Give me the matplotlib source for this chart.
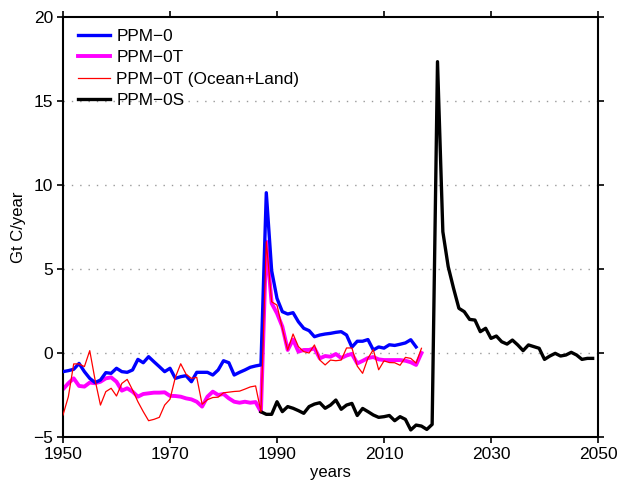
import matplotlib
matplotlib.use("Agg")
import matplotlib.pyplot as plt
import numpy as np

plt.rcParams['font.family'] = ['Liberation Sans', 'DejaVu Sans']

# PPM-0 (blue), 1950-2016
years_ppm0 = list(range(1950, 2017))
ppm0 = [-1.11, -1.05, -0.97, -0.62, -1.11, -1.51, -1.76, -1.61, -1.17, -1.21,
        -0.91, -1.11, -1.15, -1.01, -0.38, -0.58, -0.22, -0.52, -0.81, -1.11,
        -0.91, -1.51, -1.41, -1.35, -1.71, -1.15, -1.15, -1.15, -1.31, -1.01,
        -0.46, -0.58, -1.31, -1.15, -1.01, -0.85, -0.77, -0.71,
        9.54, 4.90, 3.25, 2.46, 2.32, 2.40, 1.86, 1.47, 1.33, 0.97, 1.07, 1.13,
        1.17, 1.23, 1.27, 1.07, 0.35, 0.70, 0.70, 0.80, 0.18, 0.36, 0.29, 0.49,
        0.45, 0.52, 0.60, 0.79, 0.36]

# PPM-0T (magenta), 1950-2017
years_ppm0t = list(range(1950, 2018))
ppm0t = [-2.16, -1.80, -1.51, -1.96, -2.00, -1.76, -1.80, -1.71, -1.51, -1.45,
         -1.71, -2.24, -2.10, -2.30, -2.60, -2.44, -2.40, -2.36, -2.36, -2.34,
         -2.55, -2.56, -2.60, -2.70, -2.76, -2.90, -3.19, -2.60, -2.30, -2.50,
         -2.44, -2.70, -2.90, -2.96, -2.90, -2.96, -2.92, -3.50,
         6.63, 2.96, 2.36, 1.57, 0.18, 0.80, 0.08, 0.18, 0.18, 0.28, -0.32, -0.18,
         -0.22, -0.06, -0.30, -0.15, -0.05, -0.62, -0.47, -0.30, -0.24, -0.38,
         -0.42, -0.42, -0.42, -0.42, -0.46, -0.55, -0.71, 0.0]

# PPM-0T (Ocean+Land) (red), 1950-2017
years_ol = list(range(1950, 2018))
ocean_land = [-3.69, -2.60, -0.65, -0.65, -0.81, 0.14, -1.61, -3.10, -2.30, -2.10,
              -2.56, -1.81, -1.57, -2.20, -2.90, -3.49, -4.03, -3.95, -3.83, -3.10,
              -2.75, -1.45, -0.64, -1.26, -1.51, -1.45, -3.05, -2.78, -2.65, -2.63,
              -2.37, -2.33, -2.29, -2.27, -2.15, -2.02, -1.96, -3.50,
              6.63, 3.05, 2.85, 1.45, 0.18, 1.13, 0.38, 0.08, 0.0, 0.48, -0.42, -0.71,
              -0.42, -0.46, -0.42, 0.30, 0.30, -0.78, -1.21, -0.31, 0.20, -1.0,
              -0.47, -0.57, -0.58, -0.73, -0.26, -0.32, -0.60, 0.28]

# PPM-0S (black), 1987-2049
years_ppm0s = list(range(1987, 2050))
ppm0s = [-3.50, -3.65, -3.65, -2.90, -3.49, -3.19, -3.29, -3.43, -3.59, -3.19,
         -3.04, -2.96, -3.29, -3.10, -2.80, -3.35, -3.10, -3.00, -3.72, -3.30,
         -3.49, -3.69, -3.83, -3.79, -3.72, -4.03, -3.79, -3.95, -4.58, -4.29,
         -4.35, -4.55, -4.25,
         17.34, 7.22, 5.14, 3.85, 2.66, 2.46, 2.00, 1.96, 1.27, 1.47, 0.87,
         1.01, 0.67, 0.53, 0.77, 0.48, 0.14, 0.48, 0.38, 0.28, -0.38,
         -0.18, -0.02, -0.18, -0.12, 0.04, -0.12, -0.38, -0.32, -0.32]

labels = ["PPM\u22120", "PPM\u22120T", "PPM\u22120T (Ocean+Land)", "PPM\u22120S"]
xticks = [1950, 1970, 1990, 2010, 2030, 2050]
yticks = [-5, 0, 5, 10, 15, 20]

fig = plt.figure(figsize=(6.22, 4.80), dpi=100)
ax = fig.add_axes([63/622, 1-437/480, 535/622, 420/480])

for yv in [0, 5, 10, 15]:
    ax.axhline(yv, color='#999999', linestyle=(0, (1, 5)), linewidth=1.0, zorder=0)

ax.plot(years_ppm0, ppm0, color='#0000ff', lw=2.4, label=labels[0], zorder=3)
ax.plot(years_ppm0t, ppm0t, color='#ff00ff', lw=2.8, label=labels[1], zorder=2)
ax.plot(years_ol, ocean_land, color='#ff0000', lw=0.9, label=labels[2], zorder=4)
ax.plot(years_ppm0s, ppm0s, color='#000000', lw=2.4, label=labels[3], zorder=3)

ax.set_xlim(1950, 2050)
ax.set_ylim(-5, 20)
ax.set_xticks(xticks)
ax.set_yticks(yticks)
ax.tick_params(direction='out', length=4, width=1.2, labelsize=12.5, pad=3,
               top=True, right=True, labeltop=False, labelright=False)
for s in ax.spines.values():
    s.set_linewidth(1.5)

ax.set_xlabel("years", fontsize=12, labelpad=2)
ax.set_ylabel("Gt C/year", fontsize=12, labelpad=5)

leg = ax.legend(loc='upper left', frameon=False, fontsize=12.4, handlelength=1.9,
                handletextpad=0.35, labelspacing=0.36, borderaxespad=0.3,
                bbox_to_anchor=(0.005, 1.0))

fig.savefig("out.png", dpi=100)
